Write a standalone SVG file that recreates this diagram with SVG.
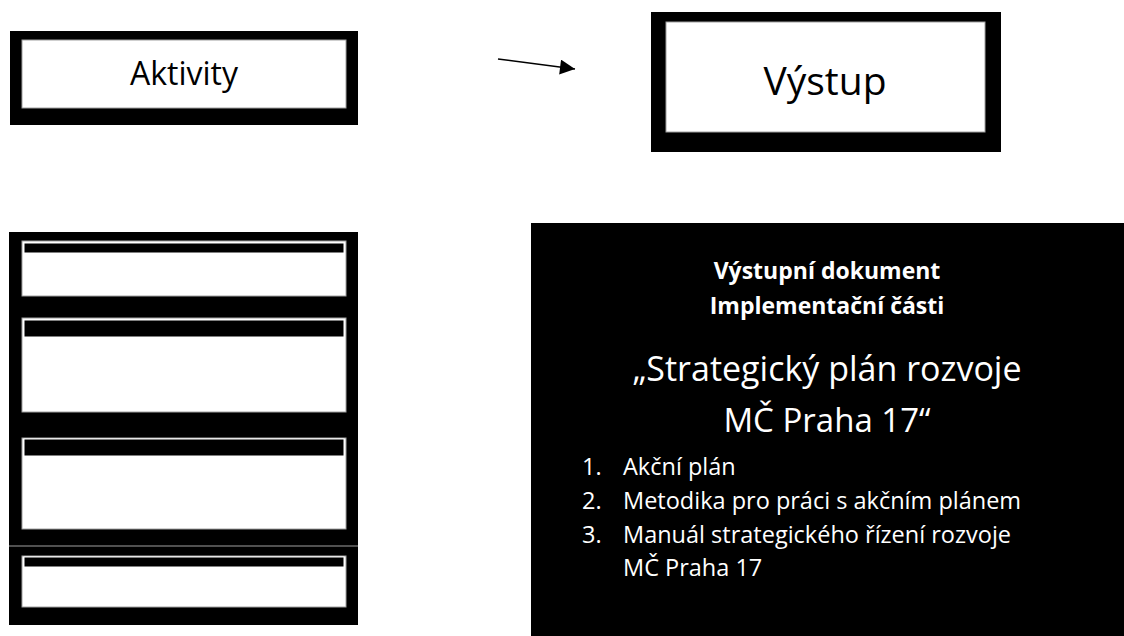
<svg xmlns="http://www.w3.org/2000/svg" width="1124" height="636" viewBox="0 0 1124 636">
<defs>
<style>
.frame{fill:#000;}
.inner{fill:#fff;stroke:#a0a0a0;stroke-width:1;}
.band{fill:#000;stroke:#fff;stroke-width:1;}
.lbl{font-family:"Open Sans","Noto Sans",sans-serif;fill:#000;text-anchor:middle;}
.wt{font-family:"Open Sans","Noto Sans",sans-serif;fill:#fff;}
.b{font-weight:bold;}
</style>
<marker id="ah" viewBox="0 0 10 10" refX="10" refY="5" markerWidth="16" markerHeight="15" markerUnits="userSpaceOnUse" orient="auto">
<path d="M0,0 L10,5 L0,10 Z" fill="#000"/>
</marker>
</defs>
<rect width="1124" height="636" fill="#fff"/>
<g id="aktivity">
<rect class="frame" x="10" y="31" width="348" height="94"/>
<rect class="inner" x="22" y="40" width="324" height="68"/>
<text class="lbl" x="184" y="85" font-size="32">Aktivity</text>
</g>
<g id="vystup">
<rect class="frame" x="651" y="12" width="350" height="140"/>
<rect class="inner" x="666" y="22" width="319" height="110"/>
<text class="lbl" x="825" y="95" font-size="39">Výstup</text>
</g>
<g id="connectors">
<line x1="498" y1="59" x2="575" y2="69" stroke="#000" stroke-width="1.5" marker-end="url(#ah)"/>
</g>
<g id="activity-list">
<rect class="frame" x="9" y="232" width="349" height="314"/>
<rect class="frame" x="9" y="546" width="349" height="79"/>
<line x1="9" y1="546" x2="358" y2="546" stroke="#a0a0a0" stroke-width="1"/>
<g id="a1">
<rect class="inner" x="22" y="241" width="324" height="55"/>
<rect class="band" x="24" y="243" width="320" height="10"/>
</g>
<g id="a2">
<rect class="inner" x="22" y="318" width="324" height="94"/>
<rect class="band" x="24" y="320" width="320" height="17"/>
</g>
<g id="a3">
<rect class="inner" x="22" y="438" width="324" height="91"/>
<rect class="band" x="24" y="439" width="320" height="17"/>
</g>
<g id="a4">
<rect class="inner" x="22" y="556" width="324" height="51"/>
<rect class="band" x="24" y="557" width="320" height="10"/>
</g>
</g>
<g id="dokument">
<rect class="frame" x="531" y="223" width="593" height="413"/>
<text class="wt b" x="827" y="279" font-size="23" text-anchor="middle">Výstupní dokument</text>
<text class="wt b" x="827" y="314" font-size="23" text-anchor="middle">Implementační části</text>
<text class="wt" x="827" y="381" font-size="34" text-anchor="middle">„Strategický plán rozvoje</text>
<text class="wt" x="827" y="432" font-size="33" text-anchor="middle">MČ Praha 17“</text>
<text class="wt" font-size="23.5">
<tspan x="582" y="475">1.</tspan><tspan x="623" y="475">Akční plán</tspan>
<tspan x="582" y="509">2.</tspan><tspan x="623" y="509">Metodika pro práci s akčním plánem</tspan>
<tspan x="582" y="543">3.</tspan><tspan x="623" y="543">Manuál strategického řízení rozvoje</tspan>
<tspan x="623" y="576">MČ Praha 17</tspan>
</text>
</g>
</svg>
